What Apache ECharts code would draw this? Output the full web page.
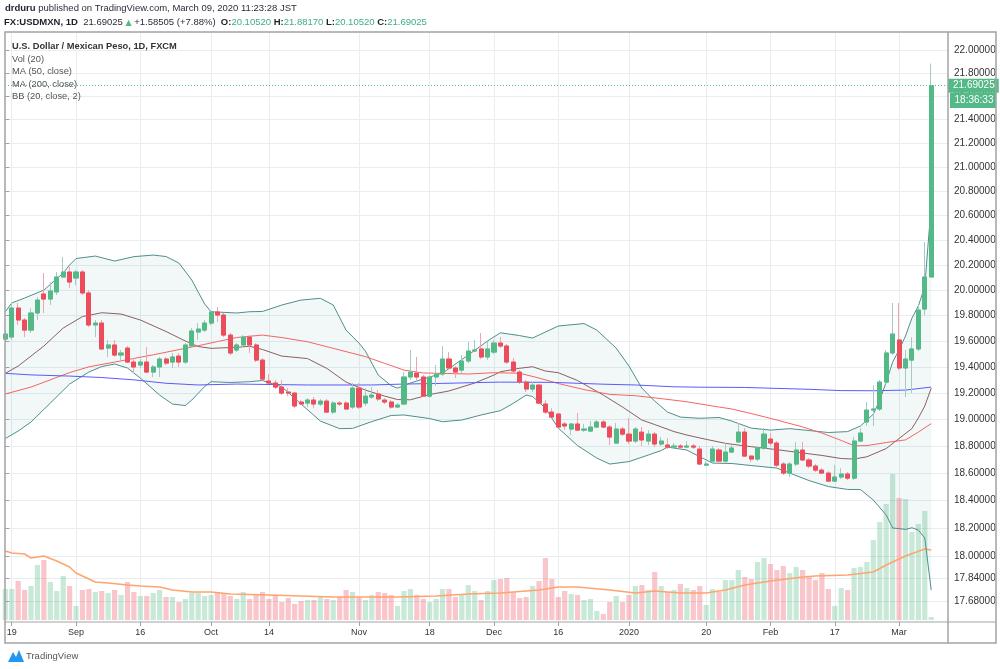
<!DOCTYPE html>
<html><head><meta charset="utf-8">
<script src="https://cdn.jsdelivr.net/npm/echarts@6/dist/echarts.min.js"></script>
<style>html,body{margin:0;padding:0;background:#fff;}#c{width:1000px;height:669px;}</style>
</head><body><div id="c"></div>
<script>
// ---------- data ----------
const tickIndex = [1, 11, 21, 32, 41, 55, 66, 76, 86, 97, 109, 119, 129, 139];
const tickLabels = ['19','Sep','16','Oct','14','Nov','18','Dec','16','2020','20','Feb','17','Mar'];
const priceTicks = [22.0,21.8,21.6,21.4,21.2,21.0,20.8,20.6,20.4,20.2,20.0,19.8,19.6,19.4,19.2,19.0,18.8,18.6,18.4,18.2,18.0,17.84,17.68];

const openP = [
19.616,19.632,19.859,19.765,19.686,19.820,19.970,19.930,19.986,20.105,
20.145,20.097,20.145,19.978,19.726,19.741,19.546,19.570,19.492,19.546,
19.438,19.415,19.438,19.361,19.400,19.461,19.438,19.484,19.438,19.562,
19.671,19.686,19.741,19.828,19.804,19.647,19.531,19.570,19.632,19.570,
19.453,19.292,19.277,19.246,19.208,19.200,19.132,19.124,19.147,19.117,
19.139,19.056,19.124,19.124,19.094,19.238,19.124,19.170,19.193,19.147,
19.132,19.094,19.117,19.323,19.353,19.323,19.177,19.323,19.346,19.461,
19.392,19.376,19.446,19.523,19.539,19.477,19.515,19.585,19.562,19.438,
19.361,19.284,19.231,19.261,19.117,19.056,19.041,18.966,18.928,18.966,
18.920,18.913,18.943,18.981,18.943,18.823,18.928,18.890,18.838,18.905,
18.838,18.890,18.816,18.808,18.793,18.801,18.793,18.801,18.778,18.659,
18.689,18.771,18.689,18.756,18.831,18.905,18.726,18.704,18.786,18.853,
18.823,18.667,18.600,18.667,18.771,18.697,18.652,18.622,18.600,18.541,
18.571,18.593,18.563,18.838,18.981,19.071,19.079,19.284,19.508,19.609,
19.392,19.453,19.539,19.851,20.1052];
const closeP = [
19.655,19.859,19.765,19.686,19.820,19.922,19.930,19.994,20.105,20.145,
20.065,20.145,19.978,19.726,19.741,19.539,19.570,19.492,19.508,19.438,
19.400,19.438,19.361,19.400,19.461,19.430,19.477,19.438,19.570,19.679,
19.694,19.741,19.828,19.804,19.647,19.508,19.570,19.632,19.570,19.453,
19.307,19.277,19.246,19.200,19.200,19.102,19.117,19.147,19.117,19.139,
19.056,19.124,19.117,19.079,19.238,19.094,19.177,19.185,19.155,19.132,
19.094,19.109,19.323,19.361,19.323,19.177,19.323,19.346,19.461,19.392,
19.361,19.446,19.523,19.531,19.477,19.539,19.585,19.562,19.438,19.369,
19.284,19.231,19.261,19.124,19.056,19.018,18.943,18.951,18.966,18.920,
18.928,18.943,18.981,18.943,18.868,18.928,18.890,18.838,18.928,18.846,
18.890,18.816,18.838,18.793,18.801,18.793,18.801,18.793,18.667,18.667,
18.778,18.689,18.756,18.786,18.905,18.726,18.704,18.786,18.890,18.823,
18.659,18.600,18.667,18.771,18.697,18.652,18.622,18.600,18.541,18.571,
18.593,18.563,18.838,18.898,19.071,19.079,19.284,19.508,19.655,19.392,
19.461,19.539,19.843,20.1052,21.69025];
const highP = [
19.686,19.899,19.899,19.780,19.859,19.946,20.137,20.065,20.145,20.265,
20.185,20.161,20.161,20.001,19.765,19.765,19.609,19.609,19.531,19.562,
19.469,19.461,19.554,19.415,19.477,19.477,19.508,19.508,19.585,19.702,
19.741,19.765,19.843,19.867,19.820,19.663,19.585,19.647,19.647,19.585,
19.469,19.346,19.300,19.300,19.238,19.208,19.147,19.162,19.170,19.155,
19.155,19.139,19.139,19.139,19.277,19.277,19.238,19.246,19.223,19.162,
19.147,19.124,19.361,19.531,19.477,19.338,19.338,19.415,19.562,19.515,
19.407,19.492,19.593,19.609,19.663,19.593,19.609,19.632,19.577,19.469,
19.376,19.300,19.284,19.269,19.147,19.086,19.049,18.981,18.973,19.049,
18.966,18.988,18.996,18.996,18.958,18.973,18.943,19.011,18.943,18.943,
18.920,18.905,18.868,18.860,18.823,18.816,18.838,18.816,18.801,18.689,
18.801,18.786,18.823,18.808,18.973,18.935,18.734,18.801,18.935,18.898,
18.838,18.682,18.682,18.831,18.831,18.712,18.667,18.637,18.615,18.659,
18.637,18.608,18.868,18.935,19.132,19.261,19.300,19.531,19.899,19.899,
19.531,19.632,19.883,20.386,21.8817];
const lowP = [
19.593,19.609,19.726,19.632,19.663,19.765,19.820,19.883,19.962,20.097,
20.017,20.041,19.962,19.710,19.632,19.531,19.477,19.477,19.438,19.430,
19.353,19.392,19.353,19.323,19.323,19.415,19.392,19.400,19.423,19.554,
19.609,19.671,19.726,19.749,19.632,19.492,19.515,19.554,19.508,19.438,
19.300,19.269,19.231,19.185,19.177,19.086,19.109,19.094,19.086,19.102,
19.049,19.041,19.102,19.071,19.079,19.079,19.102,19.155,19.139,19.117,
19.079,19.086,19.109,19.300,19.300,19.170,19.162,19.254,19.330,19.384,
19.315,19.353,19.430,19.515,19.461,19.453,19.500,19.546,19.423,19.353,
19.269,19.208,19.208,19.117,19.041,19.011,18.935,18.920,18.883,18.913,
18.905,18.905,18.935,18.935,18.808,18.816,18.875,18.816,18.823,18.801,
18.808,18.793,18.801,18.778,18.778,18.778,18.786,18.778,18.659,18.652,
18.674,18.682,18.674,18.749,18.823,18.719,18.682,18.689,18.771,18.801,
18.645,18.586,18.571,18.652,18.689,18.637,18.608,18.593,18.534,18.534,
18.556,18.549,18.549,18.831,18.951,18.951,19.064,19.269,19.492,19.376,
19.170,19.200,19.523,19.804,20.1052];
const volume = [
31,31,39,30,34,55,60,38,29,44,
34,14,30,31,28,29,27,30,25,38,
28,24,24,27,30,23,23,18,21,27,
27,24,25,27,27,24,21,28,21,25,
28,21,25,18,22,16,19,20,20,23,
21,20,23,30,28,23,20,25,28,27,
25,14,29,31,25,21,18,21,31,31,
23,25,35,29,20,29,40,41,42,28,
22,23,34,39,62,41,23,29,26,25,
20,21,9,6,18,24,18,25,34,35,
30,48,34,28,30,36,32,30,34,15,
31,28,40,40,50,43,41,58,62,56,
50,54,47,53,50,43,40,47,31,14,
32,30,52,53,58,80,98,116,146,122,
121,88,96,109,3];
const volMA20 = [[0,69],[1,67],[3,66],[4,62],[6,64],[8,59],[10,53],[11,47],[13,41],[14,38],[16,37],[19,35],[21,34],[24,33],[26,30],[29,28],[32,28],[35,26],[41,25],[46,24],[51,23],[56,23],[61,23],[67,24],[72,26],[77,27],[79,28],[83,30],[86,33],[89,33],[94,30],[98,27],[101,29],[105,27],[109,27],[112,30],[115,35],[119,39],[124,43],[126,44],[131,45],[135,48],[137,55],[140,64],[143,71],[144,70]];
const bbUpper = [[0,19.830],[1,19.899],[3,19.938],[6,20.001],[9,20.137],[10,20.201],[11,20.253],[14,20.273],[17,20.233],[20,20.268],[23,20.281],[25,20.269],[27,20.217],[29,20.081],[31,19.891],[32,19.830],[36,19.820],[38,19.830],[40,19.832],[43,19.883],[46,19.922],[49,19.936],[51,19.883],[53,19.686],[55,19.585],[56,19.523],[58,19.338],[60,19.257],[61,19.238],[63,19.277],[68,19.353],[72,19.492],[75,19.601],[77,19.665],[80,19.643],[82,19.624],[84,19.671],[86,19.718],[90,19.737],[92,19.686],[95,19.546],[97,19.407],[99,19.238],[101,19.139],[103,19.056],[105,19.018],[108,19.009],[111,19.015],[113,18.988],[116,18.935],[119,18.920],[122,18.931],[125,18.917],[128,18.902],[131,18.909],[133,18.951],[135,19.041],[136,19.147],[137,19.284],[138,19.438],[139,19.531],[140,19.640],[141,19.780],[142,19.875],[143,20.03],[144,20.69]];
const bbLower = [[0,18.857],[2,18.913],[4,18.981],[7,19.124],[10,19.269],[11,19.300],[13,19.361],[15,19.403],[17,19.423],[19,19.392],[21,19.315],[24,19.185],[26,19.117],[28,19.105],[29,19.147],[31,19.250],[32,19.287],[35,19.281],[38,19.287],[40,19.296],[43,19.248],[46,19.117],[49,18.988],[52,18.931],[54,18.933],[57,18.984],[60,19.030],[62,19.034],[66,19.007],[68,18.983],[71,18.996],[74,19.034],[77,19.067],[79,19.122],[81,19.185],[82,19.174],[84,19.086],[86,18.935],[89,18.804],[92,18.711],[94,18.667],[97,18.685],[100,18.734],[102,18.767],[103,18.793],[106,18.771],[108,18.721],[110,18.674],[113,18.671],[116,18.656],[120,18.637],[125,18.545],[128,18.501],[131,18.480],[133,18.479],[135,18.402],[137,18.293],[138,18.199],[139,18.195],[140,18.189],[141,18.201],[142,18.184],[143,18.127],[144,17.756]];
const bbBasis = [[0,19.351],[2,19.407],[6,19.562],[9,19.702],[12,19.792],[15,19.822],[18,19.812],[21,19.765],[25,19.675],[28,19.601],[30,19.558],[32,19.544],[36,19.552],[38,19.560],[40,19.535],[43,19.484],[47,19.465],[50,19.389],[53,19.284],[56,19.223],[59,19.177],[61,19.151],[63,19.149],[66,19.189],[69,19.216],[73,19.277],[76,19.338],[77,19.363],[80,19.390],[82,19.402],[84,19.369],[86,19.356],[89,19.296],[93,19.185],[96,19.094],[99,18.996],[101,18.962],[104,18.909],[106,18.883],[109,18.851],[112,18.821],[116,18.796],[120,18.774],[124,18.749],[127,18.731],[130,18.708],[132,18.704],[134,18.721],[137,18.782],[139,18.857],[141,18.932],[142,19.011],[143,19.102],[144,19.238]];
const ma50 = [[0,19.193],[4,19.246],[10,19.357],[13,19.401],[17,19.438],[23,19.494],[27,19.534],[30,19.564],[33,19.597],[36,19.628],[38,19.638],[40,19.647],[43,19.628],[47,19.595],[51,19.544],[56,19.480],[59,19.428],[62,19.376],[65,19.354],[68,19.351],[72,19.346],[76,19.356],[80,19.352],[83,19.315],[86,19.273],[90,19.227],[94,19.190],[98,19.180],[102,19.158],[106,19.134],[110,19.102],[113,19.079],[116,19.045],[120,18.996],[124,18.944],[127,18.898],[130,18.843],[132,18.803],[134,18.804],[137,18.827],[140,18.847],[142,18.905],[144,18.969]];
const ma200 = [[0,19.351],[4,19.339],[10,19.330],[15,19.319],[20,19.301],[25,19.275],[30,19.262],[36,19.269],[47,19.262],[57,19.262],[62,19.269],[68,19.274],[73,19.280],[77,19.284],[85,19.282],[93,19.268],[98,19.262],[104,19.248],[108,19.245],[115,19.243],[120,19.236],[125,19.229],[130,19.219],[135,19.218],[140,19.223],[144,19.246]];
const lastPrice = 21.69025;

// ---------- styling ----------
const UP = '#53b987', DOWN = '#eb4d5c';
const WICK_UP = '#a6c9c2', WICK_DOWN = '#f3a3ab';
const VOL_UP = 'rgba(83,185,135,0.32)', VOL_DOWN = 'rgba(235,77,92,0.32)';
const GRIDC = '#e7edf1', FRAME = '#a3a3a3';
const FONT = 'Liberation Sans';
const ln = Math.log;

const wickData = openP.map((o, i) => [i, ln(o), ln(closeP[i]), ln(lowP[i]), ln(highP[i])]);
const bodyData = openP.map((o, i) => { const c = closeP[i]; return [i, ln(o), ln(c), ln(Math.min(o, c)), ln(Math.max(o, c))]; });
const volData = volume.map((v, i) => ({ value: [i, v], itemStyle: { color: closeP[i] >= openP[i] ? VOL_UP : VOL_DOWN } }));
const toLn = arr => arr.map(p => [p[0], ln(p[1])]);

const X_MIN = -0.047, X_MAX = 146.61;
const lineSeries = (data, color, z, width) => ({
  type: 'line', xAxisIndex: 0, yAxisIndex: 0, data: toLn(data), symbol: 'none', showSymbol: false,
  lineStyle: { color: color, width: width || 1 }, silent: true, z: z, animation: false
});

const priceLine = lineSeries(ma200, '#5a5aff', 4);
priceLine.markLine = { silent: true, symbol: ['none', 'none'], animation: false, precision: 10,
  lineStyle: { type: [1, 2], color: UP, width: 1 },
  label: { show: true, position: 'end', distance: 0, formatter: lastPrice.toFixed(5), backgroundColor: UP, color: '#fff', fontSize: 10, fontFamily: FONT, padding: [2, 4, 2, 5] },
  data: [{ yAxis: ln(lastPrice) }] };

const chart = echarts.init(document.getElementById('c'), null, { renderer: 'canvas' });
chart.setOption({
  animation: false,
  backgroundColor: '#ffffff',
  grid: [
    { left: 5, right: 52, top: 33, bottom: 47, containLabel: false, outerBoundsMode: 'none' },
    { left: 5, right: 52, top: 420, bottom: 49, containLabel: false, outerBoundsMode: 'none' }
  ],
  xAxis: [
    { type: 'value', gridIndex: 0, min: X_MIN, max: X_MAX, position: 'bottom',
      axisLine: { show: false },
      axisTick: { show: true, customValues: tickIndex, length: 4, lineStyle: { color: FRAME } },
      axisLabel: { customValues: tickIndex, formatter: v => tickLabels[tickIndex.indexOf(v)], color: '#333', fontSize: 9, fontFamily: FONT, margin: 6 },
      splitLine: { show: true, lineStyle: { color: GRIDC, width: 1 } } },
    { type: 'value', gridIndex: 1, min: X_MIN, max: X_MAX, show: false, splitLine: { show: false } }
  ],
  yAxis: [
    { type: 'value', gridIndex: 0, position: 'right', min: ln(17.533), max: ln(22.149), scale: true,
      axisLine: { show: false },
      axisTick: { show: true, customValues: priceTicks.map(ln), length: 4, lineStyle: { color: FRAME } },
      axisLabel: { customValues: priceTicks.map(ln), formatter: v => Math.exp(v).toFixed(5), color: '#333', fontSize: 10, fontFamily: FONT, margin: 6 },
      splitLine: { show: true, lineStyle: { color: GRIDC, width: 1 } } },
    { type: 'value', gridIndex: 1, min: 0, max: 200, show: false, splitLine: { show: false } }
  ],
  series: [
    { type: 'custom', xAxisIndex: 0, yAxisIndex: 0, z: 1, silent: true, clip: true,
      data: [[bbUpper[0][0], ln(bbUpper[0][1])]],
      renderItem: (params, api) => {
        const pts = bbUpper.map(p => api.coord([p[0], ln(p[1])]))
          .concat(bbLower.slice().reverse().map(p => api.coord([p[0], ln(p[1])])));
        return { type: 'polygon', shape: { points: pts }, style: { fill: 'rgba(38,150,140,0.065)' } };
      } },
    { type: 'bar', xAxisIndex: 1, yAxisIndex: 1, data: volData, barWidth: 5.2, silent: true, z: 2 },
    { type: 'line', xAxisIndex: 1, yAxisIndex: 1, data: volMA20, symbol: 'none', lineStyle: { color: '#ffa46e', width: 1.5 }, silent: true, z: 3 },
    lineSeries(bbUpper, '#4f8f8c', 4),
    lineSeries(bbLower, '#4f8f8c', 4),
    lineSeries(bbBasis, '#8c5f5f', 4),
    lineSeries(ma50, '#f76464', 4),
    priceLine,
    { type: 'candlestick', xAxisIndex: 0, yAxisIndex: 0, data: wickData, barWidth: 4.6, silent: true, z: 5,
      itemStyle: { color: 'rgba(0,0,0,0)', color0: 'rgba(0,0,0,0)', borderColor: WICK_UP, borderColor0: WICK_DOWN, borderWidth: 1 } },
    { type: 'candlestick', xAxisIndex: 0, yAxisIndex: 0, data: bodyData, barWidth: 4.6, silent: true, z: 6,
      itemStyle: { color: UP, color0: DOWN, borderColor: UP, borderColor0: DOWN, borderWidth: 1 } }
  ],
  graphic: [
    { type: 'text', x: 5, y: 8, z: 100, silent: true, style: { text: '{b|drduru}{n| published on TradingView.com, March 09, 2020 11:23:28 JST}', verticalAlign: 'middle',
      rich: { b: { fontWeight: 'bold', fontSize: 9.5, fontFamily: FONT, fill: '#1e222d' }, n: { fontSize: 9.5, fontFamily: FONT, fill: '#2a2e39' } } } },
    { type: 'text', x: 4, y: 22.5, z: 100, silent: true, style: { text: '{b|FX:USDMXN, 1D}{n|  21.69025 }{g|▲}{n| +1.58505 (+7.88%)  }{b|O:}{v|20.10520}{n| }{b|H:}{v|21.88170}{n| }{b|L:}{v|20.10520}{n| }{b|C:}{v|21.69025}', verticalAlign: 'middle',
      rich: { b: { fontWeight: 'bold', fontSize: 9.5, fontFamily: FONT, fill: '#1e222d' }, n: { fontSize: 9.5, fontFamily: FONT, fill: '#2a2e39' },
              g: { fontSize: 8, fontFamily: 'DejaVu Sans', fill: UP }, v: { fontSize: 9.5, fontFamily: FONT, fill: '#3fae86' } } } },
    { type: 'text', x: 12, y: 46, z: 100, silent: true, style: { text: 'U.S. Dollar / Mexican Peso, 1D, FXCM', fill: '#333', fontWeight: 'bold', fontSize: 9.3, fontFamily: FONT, verticalAlign: 'middle' } },
    { type: 'text', x: 12, y: 59, z: 100, silent: true, style: { text: 'Vol (20)', fill: '#555', fontSize: 9.3, fontFamily: FONT, verticalAlign: 'middle' } },
    { type: 'text', x: 12, y: 71.5, z: 100, silent: true, style: { text: 'MA (50, close)', fill: '#555', fontSize: 9.3, fontFamily: FONT, verticalAlign: 'middle' } },
    { type: 'text', x: 12, y: 84, z: 100, silent: true, style: { text: 'MA (200, close)', fill: '#555', fontSize: 9.3, fontFamily: FONT, verticalAlign: 'middle' } },
    { type: 'text', x: 12, y: 96.5, z: 100, silent: true, style: { text: 'BB (20, close, 2)', fill: '#555', fontSize: 9.3, fontFamily: FONT, verticalAlign: 'middle' } },
    { type: 'rect', z: 100, silent: true, shape: { x: 950, y: 93, width: 46, height: 15 }, style: { fill: UP } },
    { type: 'text', z: 101, silent: true, x: 974, y: 100.5, style: { text: '18:36:33', fill: '#fff', fontSize: 10, fontFamily: FONT, align: 'center', verticalAlign: 'middle' } },
    { type: 'rect', z: 110, silent: true, shape: { x: 5, y: 32, width: 991, height: 611 }, style: { fill: null, stroke: FRAME, lineWidth: 1.5 } },
    { type: 'line', z: 110, silent: true, shape: { x1: 948, y1: 32, x2: 948, y2: 643 }, style: { stroke: FRAME, lineWidth: 1.5 } },
    { type: 'line', z: 110, silent: true, shape: { x1: 5, y1: 622, x2: 996, y2: 622 }, style: { stroke: FRAME, lineWidth: 1 } },
    { type: 'polygon', z: 100, silent: true, shape: { points: [[8, 662], [13, 652], [16, 657], [19, 650], [24, 662]] }, style: { fill: '#2196f3' } },
    { type: 'text', z: 100, silent: true, x: 26, y: 656, style: { text: 'TradingView', fill: '#555', fontSize: 9.5, fontFamily: FONT, verticalAlign: 'middle' } }
  ]
});
</script></body></html>
